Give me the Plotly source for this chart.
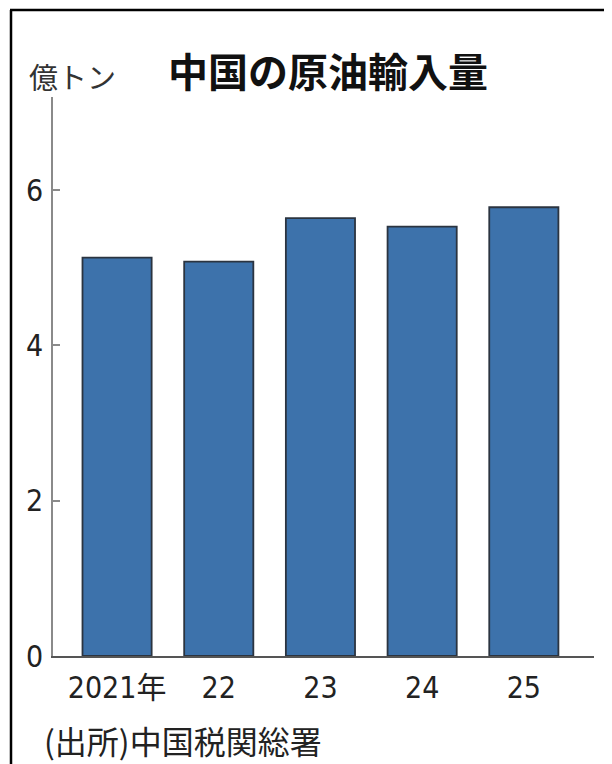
import plotly.graph_objects as go

years = ["2021年", "22", "23", "24", "25"]
imports = [5.13, 5.08, 5.64, 5.53, 5.78]
y_ticks = [0, 2, 4, 6]

W, H = 612, 764
O = 8  # page body margin offset
L = 53 - O
T = 97 - O
R = W - (594 - O)
B = H - (656 - O)
pw = W - L - R
ph = H - T - B

def px(x):
    return (x - O - L) / pw

def py(y):
    return (H - B - (y - O)) / ph

narrow = "DejaVu Sans Condensed, Liberation Sans Narrow, Noto Sans CJK JP, sans-serif"
cjk = "Noto Sans CJK JP, sans-serif"

fig = go.Figure(go.Bar(
    x=years, y=imports,
    marker=dict(color="#3d72ab", line=dict(color="#2b3440", width=1.8)),
    width=0.68,
))

fig.update_layout(
    width=W, height=H,
    margin=dict(l=L, r=R, t=T, b=B),
    paper_bgcolor="white", plot_bgcolor="white",
    showlegend=False,
    xaxis=dict(
        range=[-0.63, 4.69], showgrid=False, zeroline=False,
        showline=True, linecolor="#555", linewidth=2,
        ticks="", tickfont=dict(family=narrow, size=30, color="#222"),
        ticklabelstandoff=4,
    ),
    yaxis=dict(
        range=[0, 7.2], showgrid=False, zeroline=False,
        showline=True, linecolor="#8a8a8a", linewidth=1.5,
        tickvals=y_ticks, ticktext=[str(v) for v in y_ticks],
        ticks="inside", ticklen=7, tickcolor="#8a8a8a", tickwidth=1.5,
        tickfont=dict(family=narrow, size=30, color="#222"),
        ticklabelstandoff=2,
    ),
    shapes=[
        dict(type="line", xref="paper", yref="paper",
             x0=px(11), x1=px(11), y0=py(10), y1=py(790),
             line=dict(color="black", width=2.5)),
        dict(type="line", xref="paper", yref="paper",
             x0=px(10), x1=px(640), y0=py(10), y1=py(10),
             line=dict(color="black", width=2.5)),
    ],
    annotations=[
        dict(text="<b>中国の原油輸入量</b>", xref="paper", yref="paper",
             x=px(166), y=py(70), xanchor="left", yanchor="middle",
             showarrow=False, font=dict(family=cjk, size=40, color="#111")),
        dict(text="億トン", xref="paper", yref="paper",
             x=px(27), y=py(76), xanchor="left", yanchor="middle",
             showarrow=False, font=dict(family=cjk, size=29, color="#333")),
        dict(text="(出所)中国税関総署", xref="paper", yref="paper",
             x=px(42), y=py(740), xanchor="left", yanchor="middle",
             showarrow=False, font=dict(family=cjk, size=32, color="#222")),
    ],
)

fig.write_html("out.html")
